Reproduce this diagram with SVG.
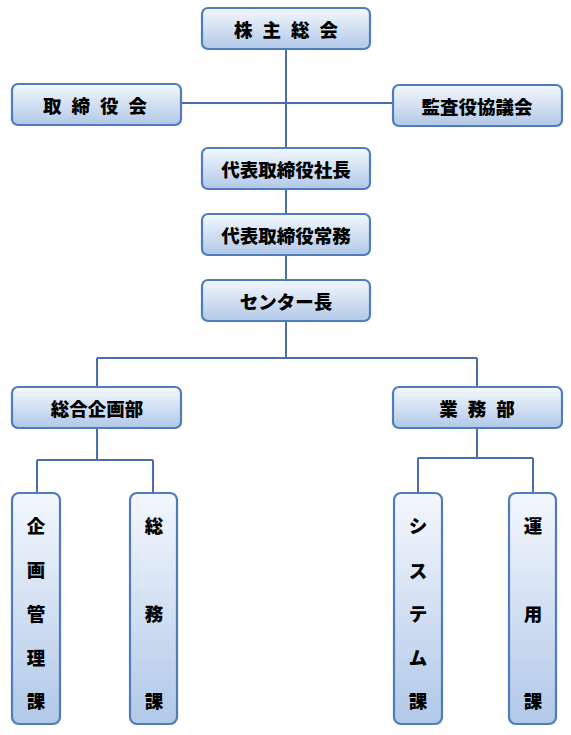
<svg xmlns="http://www.w3.org/2000/svg" width="571" height="735" viewBox="0 0 571 735">
<defs>
<linearGradient id="g" x1="0" y1="0" x2="0" y2="1">
<stop offset="0" stop-color="#f4f8fd"/>
<stop offset="1" stop-color="#b1c8e8"/>
</linearGradient>
<style>
.box{fill:url(#g);stroke:#4f7dbb;stroke-width:2.2}
.t{font-family:"Noto Sans CJK JP","Liberation Sans",sans-serif;font-weight:900;font-size:18.5px;fill:#000;text-anchor:middle;dominant-baseline:central}
.sp{letter-spacing:10px}
.ln{stroke:#4a6db0;stroke-width:2;fill:none}
</style>
</defs>
<rect width="571" height="735" fill="#fff"/>
<g id="connectors">
<path class="ln" d="M286 49V358M181 103H393M97 358H477M97 358V387M477 358V387M97 428V460M37 460H153M37 460V493M153 460V493M477 428V458M418 458H533M418 458V493M533 458V493"/>
</g>
<g id="n1"><rect class="box" x="202" y="8" width="168" height="41" rx="6"/><text class="t sp" x="291" y="29">株主総会</text></g>
<g id="n2"><rect class="box" x="12" y="84" width="169" height="41" rx="6"/><text class="t sp" x="100" y="105">取締役会</text></g>
<g id="n3"><rect class="box" x="393" y="85" width="169" height="41" rx="6"/><text class="t" x="477" y="106">監査役協議会</text></g>
<g id="n4"><rect class="box" x="202" y="148" width="168" height="41" rx="6"/><text class="t" x="286" y="169">代表取締役社長</text></g>
<g id="n5"><rect class="box" x="202" y="214" width="168" height="41" rx="6"/><text class="t" x="286" y="235">代表取締役常務</text></g>
<g id="n6"><rect class="box" x="202" y="280" width="168" height="41" rx="6"/><text class="t" x="286" y="301">センター長</text></g>
<g id="n7"><rect class="box" x="12" y="387" width="169" height="41" rx="6"/><text class="t" x="97" y="408">総合企画部</text></g>
<g id="n8"><rect class="box" x="393" y="387" width="169" height="41" rx="6"/><text class="t sp" x="482" y="408">業務部</text></g>
<g id="n9"><rect class="box" x="12" y="493" width="48" height="231" rx="7"/>
<text class="t" x="36" y="525">企</text><text class="t" x="36" y="569">画</text><text class="t" x="36" y="613">管</text><text class="t" x="36" y="657">理</text><text class="t" x="36" y="700">課</text></g>
<g id="n10"><rect class="box" x="130" y="493" width="47" height="231" rx="7"/>
<text class="t" x="154" y="525">総</text><text class="t" x="154" y="613">務</text><text class="t" x="154" y="700">課</text></g>
<g id="n11"><rect class="box" x="394" y="493" width="48" height="231" rx="7"/>
<text class="t" x="418" y="525">シ</text><text class="t" x="418" y="570">ス</text><text class="t" x="418" y="613">テ</text><text class="t" x="418" y="657">ム</text><text class="t" x="418" y="700">課</text></g>
<g id="n12"><rect class="box" x="509" y="493" width="47" height="231" rx="7"/>
<text class="t" x="533" y="525">運</text><text class="t" x="533" y="613">用</text><text class="t" x="533" y="700">課</text></g>
</svg>
